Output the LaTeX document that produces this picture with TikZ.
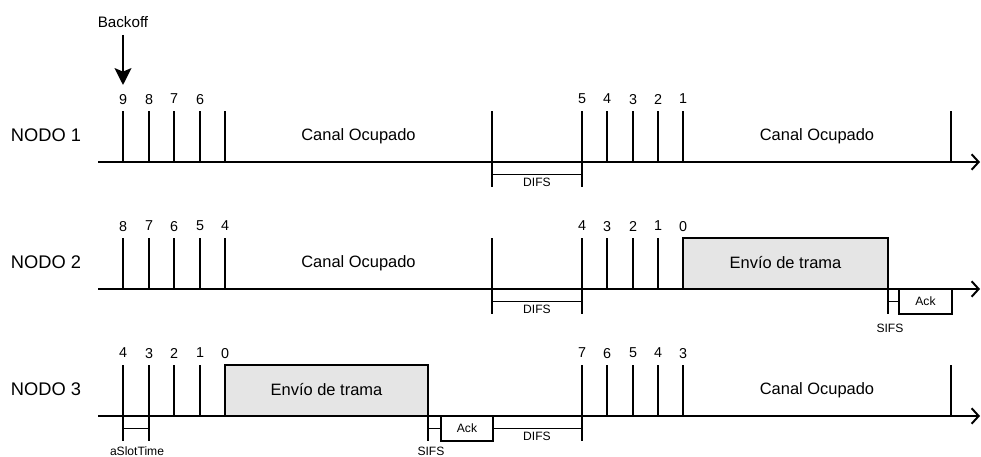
\documentclass[tikz,border=0pt]{standalone}
\usepackage{fontspec}
\setmainfont{Liberation Sans}
\usetikzlibrary{arrows.meta}

\tikzset{
  eje/.style={line width=1.4pt, -{Straight Barb[length=5pt, width=11pt]}},
  marca/.style={line width=1.4pt},
  trama/.style={line width=1.4pt, fill=gray!20},
  num/.style={font=\fontsize{10.2}{12}\selectfont, inner sep=0pt, text depth=0pt},
  etiq/.style={font=\fontsize{8.6}{10}\selectfont, inner sep=0pt, text depth=0pt},
  texto/.style={font=\fontsize{11.7}{14}\selectfont, inner sep=0pt, text depth=0pt},
  nodo/.style={font=\fontsize{13}{15}\selectfont, inner sep=0pt, text depth=0pt}
}

\begin{document}
\begin{tikzpicture}[x=0.025cm, y=-0.025cm]
    \useasboundingbox (0,0) rectangle (981,457);

    % Backoff marker
    \node[font=\fontsize{10.8}{12}\selectfont, inner sep=0pt] (backoff) at (123,22) {Backoff};
    \coordinate (inicio) at (123,85);
    \draw[line width=1.4pt, shorten <=5pt, -{Stealth[length=12pt, width=12pt, inset=2.5pt]}] (backoff) -- (inicio);

    % NODO 1
    \begin{scope}[shift={(0,162)}]
        \node[nodo] (nodo1) at (46,-27) {NODO 1};
        \draw[eje] (98,0) -- (980,0);
        \foreach \x/\n in {123/9, 149/8, 174/7, 200/6} {
            \draw[marca] (\x,0) -- (\x,-51);
            \node[num] at (\x,-63) {\n};
        }
        \draw[marca] (225,0) -- (225,-51);
        \node[texto] (ocup1a) at (358.5,-27) {Canal Ocupado};
        % DIFS
        \draw[marca] (492,25) -- (492,-51);
        \draw[marca] (582,25) -- (582,-51);
        \draw[marca] (492,12.5) -- (582,12.5);
        \node[etiq] (difs1) at (537,20.5) {DIFS};
        \foreach \x/\n in {582/5, 607/4, 633/3, 658/2, 683/1} {
            \draw[marca] (\x,0) -- (\x,-51);
            \node[num] at (\x,-63) {\n};
        }
        \node[texto] (ocup1b) at (817,-27) {Canal Ocupado};
        \draw[marca] (951,0) -- (951,-51);
    \end{scope}

    % NODO 2
    \begin{scope}[shift={(0,289)}]
        \node[nodo] (nodo2) at (46,-27) {NODO 2};
        \draw[eje] (98,0) -- (980,0);
        \foreach \x/\n in {123/8, 149/7, 174/6, 200/5, 225/4} {
            \draw[marca] (\x,0) -- (\x,-51);
            \node[num] at (\x,-63) {\n};
        }
        \node[texto] (ocup2) at (358.5,-27) {Canal Ocupado};
        % DIFS
        \draw[marca] (492,25) -- (492,-51);
        \draw[marca] (582,25) -- (582,-51);
        \draw[marca] (492,12.5) -- (582,12.5);
        \node[etiq] (difs2) at (537,20.5) {DIFS};
        \foreach \x/\n in {582/4, 607/3, 633/2, 658/1} {
            \draw[marca] (\x,0) -- (\x,-51);
            \node[num] at (\x,-63) {\n};
        }
        \node[num] at (683,-63) {0};
        % frame + SIFS + Ack
        \draw[trama] (683,0) rectangle (888,-51);
        \node[texto] (trama2) at (785.5,-27) {Envío de trama};
        \draw[marca] (888,0) -- (888,25);
        \draw[marca] (888,12.5) -- (899,12.5);
        \draw[marca] (899,0) rectangle (952,25);
        \node[etiq] (ack2) at (925.5,12.5) {Ack};
        \node[etiq] (sifs2) at (890,39) {SIFS};
    \end{scope}

    % NODO 3
    \begin{scope}[shift={(0,416)}]
        \node[nodo] (nodo3) at (46,-27) {NODO 3};
        \draw[eje] (98,0) -- (980,0);
        \foreach \x/\n in {123/4, 149/3} {
            \draw[marca] (\x,25) -- (\x,-51);
            \node[num] at (\x,-63) {\n};
        }
        \foreach \x/\n in {174/2, 200/1} {
            \draw[marca] (\x,0) -- (\x,-51);
            \node[num] at (\x,-63) {\n};
        }
        \node[num] at (225,-63) {0};
        % aSlotTime
        \draw[marca] (123,12.5) -- (149,12.5);
        \node[etiq] (slot) at (137,35) {aSlotTime};
        % frame + SIFS + Ack
        \draw[trama] (225,0) rectangle (428,-51);
        \node[texto] (trama3) at (326.5,-27) {Envío de trama};
        \draw[marca] (428,0) -- (428,25);
        \draw[marca] (428,12.5) -- (441,12.5);
        \draw[marca] (441,0) rectangle (493,25);
        \node[etiq] (ack3) at (467,12.5) {Ack};
        \node[etiq] (sifs3) at (431,35) {SIFS};
        % DIFS
        \draw[marca] (493,12.5) -- (582,12.5);
        \draw[marca] (582,25) -- (582,-51);
        \node[etiq] (difs3) at (537,20.5) {DIFS};
        \node[num] at (582,-63) {7};
        \foreach \x/\n in {607/6, 633/5, 658/4, 683/3} {
            \draw[marca] (\x,0) -- (\x,-51);
            \node[num] at (\x,-63) {\n};
        }
        \node[texto] (ocup3) at (817,-27) {Canal Ocupado};
        \draw[marca] (951,0) -- (951,-51);
    \end{scope}
\end{tikzpicture}
\end{document}
